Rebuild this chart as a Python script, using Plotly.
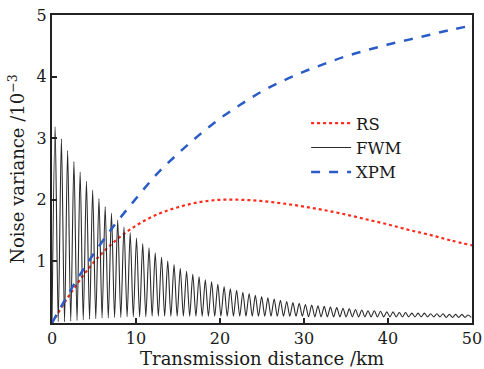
import plotly.graph_objects as go

# ---- data ----
dist = [0, 2.5, 5, 7.5, 10, 12.5, 15, 17.5, 20, 22.5, 25, 27.5, 30, 32.5, 35,
        37.5, 40, 42.5, 45, 47.5, 50]
rs = [0, 0.54, 0.99, 1.33, 1.58, 1.76, 1.88, 1.96, 2.0, 2.0, 1.98, 1.94, 1.89,
      1.83, 1.76, 1.68, 1.6, 1.51, 1.43, 1.34, 1.26]
xpm = [0, 0.6, 1.13, 1.6, 2.02, 2.42, 2.75, 3.05, 3.32, 3.55, 3.76, 3.93, 4.08,
       4.21, 4.33, 4.43, 4.52, 4.6, 4.68, 4.76, 4.83]

fwm_peak_x = [0.37, 1.12, 1.86, 2.61, 3.35, 4.10, 4.84, 5.59, 6.33, 7.08, 7.82, 8.57,
              9.31, 10.06, 10.80, 11.55, 12.29, 13.04, 13.78, 14.53, 15.27, 16.02,
              16.76, 17.51, 18.25, 19.00, 19.74, 20.49, 21.23, 21.98, 22.72, 23.47,
              24.21, 24.96, 25.70, 26.45, 27.19, 27.94, 28.68, 29.43, 30.17, 30.92,
              31.66, 32.41, 33.15, 33.90, 34.64, 35.39, 36.13, 36.88, 37.62, 38.37,
              39.11, 39.86, 40.60, 41.35, 42.09, 42.84, 43.58, 44.33, 45.07, 45.82,
              46.56, 47.31, 48.05, 48.80, 49.54]
fwm_peak_y = [3.19, 2.99, 2.80, 2.62, 2.45, 2.30, 2.16, 2.02, 1.89, 1.78, 1.67, 1.56,
              1.47, 1.38, 1.29, 1.22, 1.14, 1.07, 1.01, 0.95, 0.89, 0.84, 0.79, 0.75,
              0.70, 0.67, 0.63, 0.59, 0.56, 0.53, 0.50, 0.48, 0.45, 0.43, 0.41, 0.39,
              0.37, 0.35, 0.33, 0.32, 0.30, 0.29, 0.28, 0.27, 0.26, 0.25, 0.24, 0.23,
              0.22, 0.21, 0.20, 0.20, 0.19, 0.18, 0.18, 0.17, 0.17, 0.16, 0.16, 0.16,
              0.15, 0.15, 0.15, 0.14, 0.14, 0.14, 0.13]
fwm_trough_x = [0.74, 1.49, 2.23, 2.98, 3.72, 4.47, 5.21, 5.96, 6.70, 7.45, 8.19, 8.94,
                9.68, 10.43, 11.17, 11.92, 12.66, 13.41, 14.15, 14.90, 15.64, 16.39,
                17.13, 17.88, 18.62, 19.37, 20.11, 20.86, 21.60, 22.35, 23.09, 23.84,
                24.58, 25.33, 26.07, 26.82, 27.56, 28.31, 29.05, 29.80, 30.54, 31.29,
                32.03, 32.78, 33.52, 34.27, 35.01, 35.76, 36.50, 37.25, 37.99, 38.74,
                39.48, 40.23, 40.97, 41.72, 42.46, 43.21, 43.95, 44.70, 45.44, 46.19,
                46.93, 47.68, 48.42, 49.17, 49.91]
fwm_trough_y = [0.02, 0.02, 0.03, 0.04, 0.05, 0.06, 0.07, 0.08, 0.08, 0.09, 0.09, 0.10,
                0.10, 0.10, 0.10, 0.11, 0.11, 0.11, 0.11, 0.11, 0.11, 0.11, 0.11, 0.11,
                0.11, 0.11, 0.11, 0.11, 0.11, 0.11, 0.11, 0.11, 0.11, 0.11, 0.11, 0.11,
                0.11, 0.11, 0.11, 0.11, 0.10, 0.10, 0.10, 0.10, 0.10, 0.10, 0.10, 0.10,
                0.10, 0.10, 0.10, 0.10, 0.10, 0.10, 0.10, 0.10, 0.10, 0.10, 0.10, 0.10,
                0.10, 0.10, 0.09, 0.09, 0.09, 0.09, 0.09]

x_ticks = [0, 10, 20, 30, 40, 50]
y_ticks = [1, 2, 3, 4, 5]

# interleave peaks and troughs into one path
fwm_x = [0.0]
fwm_y = [0.02]
for px, py, tx, ty in zip(fwm_peak_x, fwm_peak_y, fwm_trough_x, fwm_trough_y):
    fwm_x += [px, tx]
    fwm_y += [py, ty]

FONT = "DejaVu Serif"

fig = go.Figure()
fig.add_trace(go.Scatter(x=dist, y=rs, name="RS", mode="lines",
                         line=dict(color="#ff2a1a", width=2.2, dash="dot", shape="spline")))
fig.add_trace(go.Scatter(x=fwm_x, y=fwm_y, name="FWM", mode="lines",
                         line=dict(color="#2a2a2a", width=1.1, shape="spline", smoothing=0.8)))
fig.add_trace(go.Scatter(x=dist, y=xpm, name="XPM", mode="lines",
                         line=dict(color="#2a5cc8", width=2.5, dash="dash", shape="spline")))

fig.update_layout(
    width=484, height=369,
    margin=dict(l=52, r=12, t=15, b=46, autoexpand=False),
    paper_bgcolor="white", plot_bgcolor="white",
    font=dict(family=FONT, size=16, color="#1a1a1a"),
    showlegend=True,
    legend=dict(x=0.605, y=0.705, xanchor="left", yanchor="top",
                bgcolor="rgba(0,0,0,0)", font=dict(family=FONT, size=16.5),
                tracegroupgap=0, itemwidth=40),
)
fig.update_xaxes(range=[0, 50], tickvals=x_ticks, ticktext=[str(v) for v in x_ticks],
                 ticks="inside", ticklen=5, tickwidth=1.5, tickcolor="#222",
                 showline=True, linecolor="#222", linewidth=2, mirror=True,
                 showgrid=False, zeroline=False, automargin=False,
                 title=dict(text="Transmission distance /km", font=dict(family=FONT, size=18),
                            standoff=0),
                 tickfont=dict(family=FONT, size=16))
fig.update_yaxes(range=[0, 5], tickvals=y_ticks, ticktext=[str(v) for v in y_ticks],
                 ticks="inside", ticklen=5, tickwidth=1.5, tickcolor="#222",
                 showline=True, linecolor="#222", linewidth=2, mirror=True,
                 showgrid=False, zeroline=False, automargin=False,
                 title=dict(text="Noise variance /10<sup>−3</sup>", font=dict(family=FONT, size=18),
                            standoff=7),
                 tickfont=dict(family=FONT, size=16))

fig.write_html("out.html")
